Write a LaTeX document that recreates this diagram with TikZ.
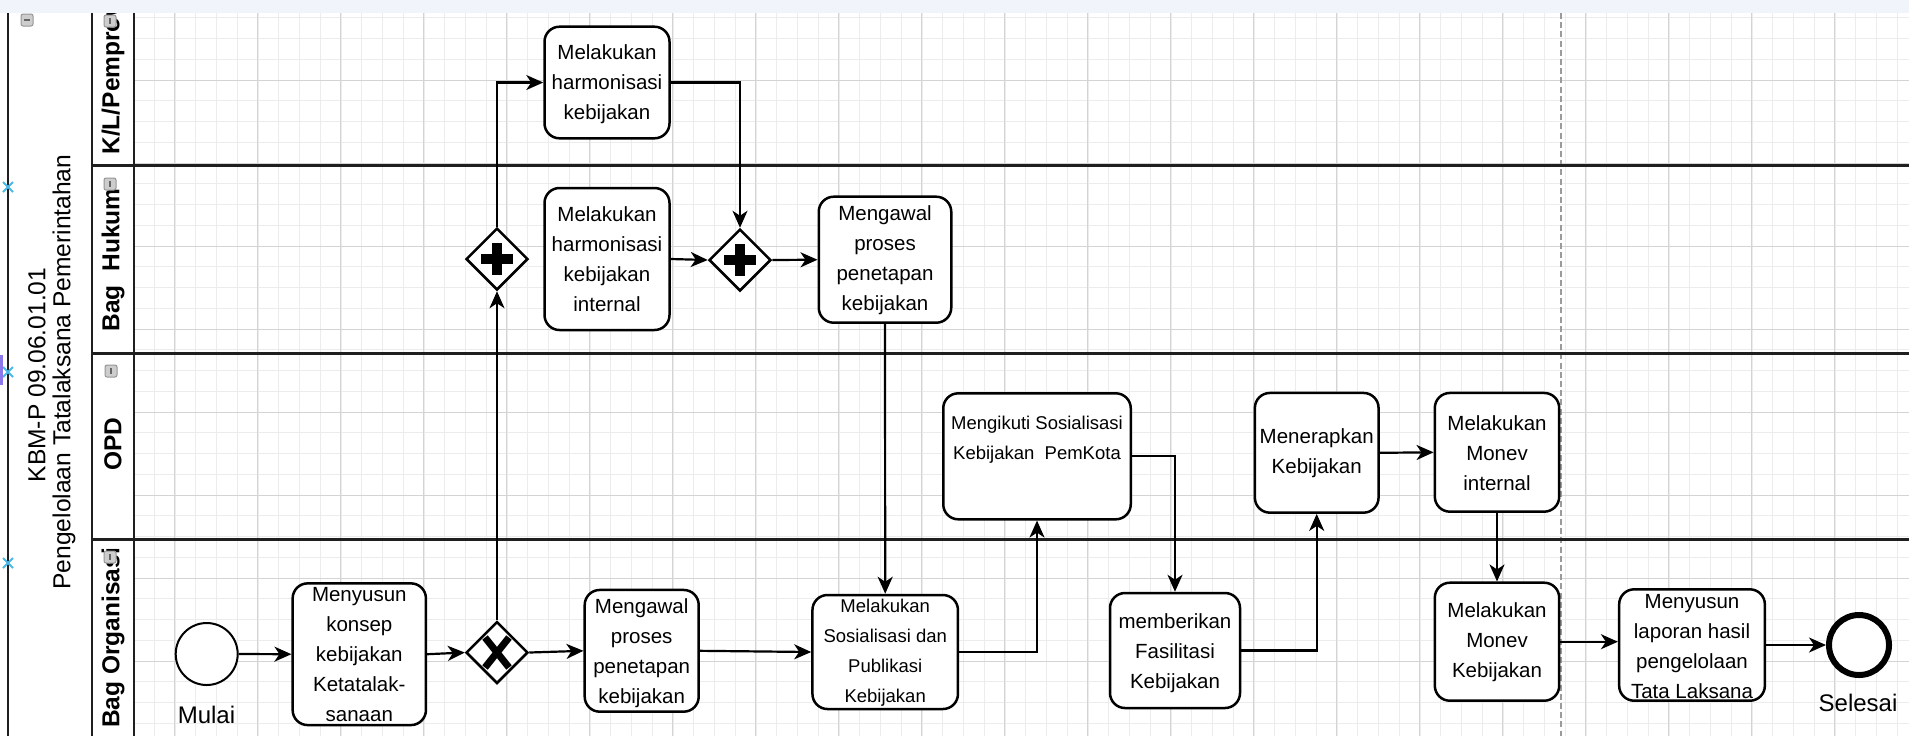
\documentclass[tikz,border=0pt]{standalone}
\usepackage{fontspec}
\setmainfont{Liberation Sans}
\usetikzlibrary{shapes.geometric,arrows.meta}
\definecolor{topband}{RGB}{241,245,251}
\definecolor{gridmin}{RGB}{236,236,236}
\definecolor{gridmaj}{RGB}{212,212,212}
\definecolor{selcyan}{RGB}{70,185,230}
\definecolor{selpurple}{RGB}{140,120,235}
\definecolor{iconfill}{RGB}{205,205,205}
\definecolor{icondraw}{RGB}{150,150,150}
\definecolor{pagedash}{RGB}{155,155,155}
\begin{document}
\begin{tikzpicture}[x=0.5pt,y=-0.5pt,
  taskbox/.style={draw=black,line width=1.25pt,rounded corners=7.5pt,fill=white,inner sep=0pt},
  tasktext/.style={font=\fontsize{10.25pt}{15pt}\selectfont,align=center,inner sep=0pt,text=black},
  smalltext/.style={font=\fontsize{9.25pt}{15pt}\selectfont,align=center,inner sep=0pt,text=black},
  gateway/.style={diamond,aspect=1,draw=black,line width=1.25pt,fill=white,minimum width=31pt,minimum height=31pt,inner sep=0pt},
  flow/.style={draw=black,line width=1.1pt,-{Stealth[length=8.5pt,width=7.5pt,inset=2.5pt]}},
  lanelabel/.style={rotate=90,font=\fontsize{12.25pt}{14pt}\bfseries\selectfont,inner sep=0pt},
  pooltitle/.style={rotate=90,font=\fontsize{12.3pt}{14pt}\selectfont,inner sep=0pt},
  lanerule/.style={line width=1.5pt,draw=black!88},
  sepline/.style={line width=1pt,draw=black!88},
  iconbox/.style={draw=icondraw,fill=iconfill,rounded corners=1pt,minimum size=6pt,inner sep=0pt,line width=0.5pt},
  iconbar/.style={draw=black!60,line width=0.8pt},
  selmark/.style={draw=selcyan,line width=0.9pt},
  eventlabel/.style={font=\fontsize{12pt}{14pt}\selectfont,inner sep=0pt,anchor=base}
]
\useasboundingbox (0,0) rectangle (1909,736);
\clip (0,0) rectangle (1909,736);
\fill[white] (0,0) rectangle (1909,736);

% grid
\foreach \i in {2,...,87} {\draw[gridmin,line width=0.4pt] ({91.9+20.75*\i},13) -- ({91.9+20.75*\i},736);}
\foreach \i in {1,...,35} {\draw[gridmin,line width=0.4pt] (134,{-3+20.75*\i}) -- (1909,{-3+20.75*\i});}
\foreach \i in {1,...,21} {\draw[gridmaj,line width=0.5pt] ({91.9+83*\i},13) -- ({91.9+83*\i},736);}
\foreach \i in {0,...,7} {\draw[gridmaj,line width=0.5pt] (134,{80+83*\i}) -- (1909,{80+83*\i});}

% page break line
\draw[pagedash,line width=0.7pt,dash pattern=on 3pt off 1.6pt] (1561,13) -- (1561,736);

% pool and lanes
\draw[sepline] (8,13) -- (8,736);
\draw[sepline] (92,13) -- (92,736);
\draw[sepline] (134,13) -- (134,736);
\draw[lanerule] (92,165) -- (1909,165);
\draw[lanerule] (92,353) -- (1909,353);
\draw[lanerule] (92,539) -- (1909,539);

\node[pooltitle] (pt1) at (37,375) {KBM-P 09.06.01.01};
\node[pooltitle] (pt2) at (64,372) {Pengelolaan Tatalaksana Pemerintahan};
\node[lanelabel,anchor=west] (lkl) at (113,155) {K/L/Pemprov};
\node[lanelabel] (lhk) at (113,260) {Bag\ \ Hukum};
\node[lanelabel] (lopd) at (113,444) {OPD};
\node[lanelabel] (lorg) at (113,638) {Bag Organisasi};

% icons
\node[iconbox] (icpool) at (27,20) {};
\draw[iconbar] (icpool.center) ++(-3,0) -- ++(6,0);
\node[iconbox] (ickl) at (110,21) {};
\draw[iconbar] (ickl.center) ++(0,-3) -- ++(0,6);
\node[iconbox] (ichk) at (110,184) {};
\draw[iconbar] (ichk.center) ++(0,-3) -- ++(0,6);
\node[iconbox] (icopd) at (111,371) {};
\draw[iconbar] (icopd.center) ++(0,-3) -- ++(0,6);
\node[iconbox] (icorg) at (110,557) {};
\draw[iconbar] (icorg.center) ++(0,-3) -- ++(0,6);

% selection marks
\foreach \yy in {187,372,563} {\draw[selmark] (8,\yy) ++(-5,-5) -- ++(10,10) ++(0,-10) -- ++(-10,10);}
\fill[selpurple] (0,355) rectangle (3,385);

% tasks
\node[taskbox,minimum width=62.5pt,minimum height=55.8pt] (kl) at (607,82.5) {};
\node[tasktext] (kltxt) at (607,84) {Melakukan\\harmonisasi\\kebijakan};
\node[taskbox,minimum width=62.5pt,minimum height=71pt] (intl) at (607,259) {};
\node[tasktext] (intltxt) at (607,259) {Melakukan\\harmonisasi\\kebijakan\\internal};
\node[taskbox,minimum width=66.25pt,minimum height=63pt] (mgh) at (885,259.7) {};
\node[tasktext] (mghtxt) at (885,260.5) {Mengawal\\proses\\penetapan\\kebijakan};
\node[taskbox,minimum width=66.65pt,minimum height=70.85pt] (susun) at (359.3,654.2) {};
\node[tasktext] (susuntxt) at (359.3,655) {Menyusun\\konsep\\kebijakan\\Ketatalak-\\sanaan};
\node[taskbox,minimum width=57pt,minimum height=60.85pt] (mgo) at (641.7,650.8) {};
\node[tasktext] (mgotxt) at (641.7,653) {Mengawal\\proses\\penetapan\\kebijakan};
\node[taskbox,minimum width=72.75pt,minimum height=57pt] (sos) at (885.2,652) {};
\node[smalltext] (sostxt) at (885.2,653) {Melakukan\\Sosialisasi dan\\Publikasi\\Kebijakan};
\node[taskbox,minimum width=93.75pt,minimum height=63pt] (ikut) at (1037,456.3) {};
\node[smalltext] (ikuttxt) at (1037,440) {Mengikuti Sosialisasi\\Kebijakan\ \ PemKota};
\node[taskbox,minimum width=65pt,minimum height=57.5pt] (beri) at (1175,650.5) {};
\node[tasktext] (beritxt) at (1175,653) {memberikan\\Fasilitasi\\Kebijakan};
\node[taskbox,minimum width=61.85pt,minimum height=59.85pt] (terap) at (1316.7,452.8) {};
\node[tasktext] (teraptxt) at (1316.7,453) {Menerapkan\\Kebijakan};
\node[taskbox,minimum width=62.2pt,minimum height=59.35pt] (mint) at (1497,452.3) {};
\node[tasktext] (minttxt) at (1497,453) {Melakukan\\Monev\\internal};
\node[taskbox,minimum width=62.2pt,minimum height=59pt] (mkeb) at (1497,641.7) {};
\node[tasktext] (mkebtxt) at (1497,641.7) {Melakukan\\Monev\\Kebijakan};
\node[taskbox,minimum width=72.85pt,minimum height=55.7pt] (lap) at (1692,645) {};
\node[tasktext] (laptxt) at (1692,646.7) {Menyusun\\laporan hasil\\pengelolaan\\Tata Laksana};

% events
\node[circle,draw=black,line width=1pt,fill=white,minimum size=31pt,inner sep=0pt] (start) at (206.7,654) {};
\node[eventlabel] (startlbl) at (206.5,723) {Mulai};
\node[circle,draw=black,line width=3pt,fill=white,minimum size=30pt,inner sep=0pt] (end) at (1859,645) {};
\node[eventlabel] (endlbl) at (1858,711) {Selesai};

% gateways
\node[gateway] (xor) at (497,652.5) {};
\draw[line width=3.5pt] (xor.center) ++(-12,-15) -- ++(24,30);
\draw[line width=3.5pt] (xor.center) ++(12,-15) -- ++(-24,30);
\node[gateway] (ands) at (497,259) {};
\draw[line width=5pt] (ands.center) ++(-16,0) -- ++(32,0);
\draw[line width=5pt] (ands.center) ++(0,-16) -- ++(0,32);
\node[gateway] (andj) at (740,260) {};
\draw[line width=5pt] (andj.center) ++(-16,0) -- ++(32,0);
\draw[line width=5pt] (andj.center) ++(0,-16) -- ++(0,32);

% flows
\draw[flow] (start.east) -- (susun.west);
\draw[flow] (susun.east) -- (xor.west);
\draw[flow] (xor.east) -- (mgo.west);
\draw[flow] (xor.north) -- (ands.south);
\draw[flow] (ands.north) |- (kl.west);
\draw[flow] (kl.east) -| (andj.north);
\draw[flow] (intl.east) -- (andj.west);
\draw[flow] (andj.east) -- (mgh.west);
\draw[flow] (mgh.south) -- (sos.north);
\draw[flow] (mgo.east) -- (sos.west);
\draw[flow] (sos.east) -| (ikut.south);
\draw[flow] (ikut.east) -| (beri.north);
\draw[flow] (beri.east) -| (terap.south);
\draw[flow] (terap.east) -- (mint.west);
\draw[flow] (mint.south) -- (mkeb.north);
\draw[flow] (mkeb.east) -- (mkeb.east -| lap.west);
\draw[flow] (lap.east) -- (end.west);

% top band
\fill[topband] (0,0) rectangle (1909,13);
\end{tikzpicture}
\end{document}
